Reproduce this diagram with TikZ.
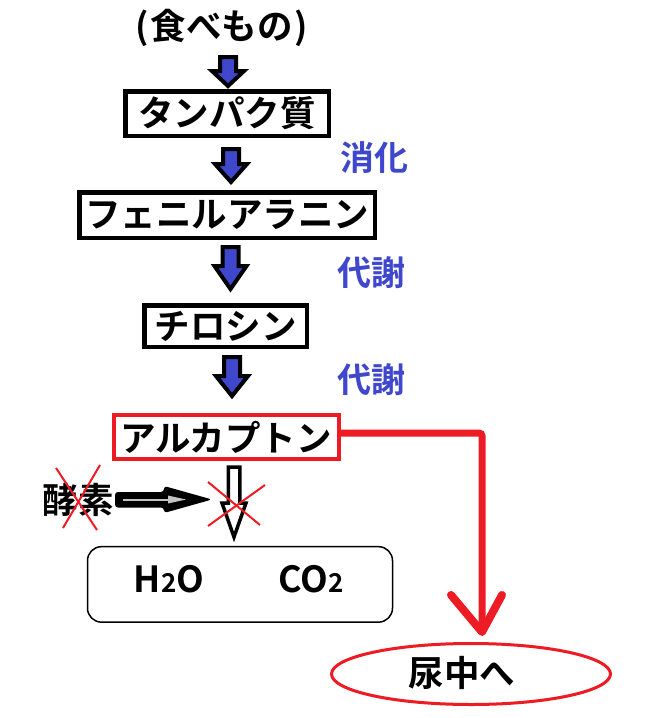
\documentclass[tikz,border=0pt]{standalone}
\usepackage{fontspec}
\setmainfont{Noto Sans CJK JP}[BoldFont={* Bold}]
\usetikzlibrary{calc,shapes.geometric}
\definecolor{pblue}{RGB}{63,72,204}
\definecolor{pred}{RGB}{237,28,36}
\definecolor{pgray}{RGB}{195,195,195}
\newcommand\blockarr[4]{%
  \draw[line width=4, line join=miter, fill=pblue]
    (#1-8,#2) -- (#1+8,#2) -- (#1+8,#3) -- (#1+16,#3) -- (#1,#4) -- (#1-16,#3) -- (#1-8,#3) -- cycle;}
\begin{document}
\begin{tikzpicture}[x=1pt,y=-1pt,
  jp/.style={font=\fontsize{35.5}{40}\selectfont\bfseries, inner sep=0pt},
  stagebox/.style={jp, draw=black, line width=4.5},
  redbox/.style={jp, draw=pred, line width=4},
  bluelabel/.style={jp, text=pblue, font=\fontsize{34}{38}\selectfont\bfseries},
  crossline/.style={pred, line width=2},
  chem/.style={font=\fontsize{36}{40}\selectfont\bfseries, inner sep=0pt, anchor=base}]
\useasboundingbox (0,0) rectangle (647,718);
\fill[white] (0,0) rectangle (647,718);

% food
\node[jp] (food) at (222,28) {(\kern2pt 食べもの\kern2pt)};

% stage boxes
\node[stagebox, minimum width=203.5, minimum height=44.5] (prot) at (227,113.5) {タンパク質};
\node[stagebox, minimum width=295.5, minimum height=45.5] (phe) at (227,215) {フェニルアラニン};
\node[stagebox, minimum width=162.5, minimum height=41.5] (tyr) at (225.5,326) {チロシン};
\node[redbox, minimum width=225, minimum height=44] (alk) at (226,437) {アルカプトン};

% blue block arrows
\blockarr{228}{57}{71}{86}
\blockarr{231}{149}{164}{182}
\blockarr{230.5}{247}{266}{289}
\blockarr{232}{357}{376}{396}

% blue labels
\node[bluelabel] (l1) at (374,158) {消化};
\node[bluelabel] (l2) at (371,273) {代謝};
\node[bluelabel] (l3) at (371,380) {代謝};

% products box
\node[draw=black, line width=1.5, rounded corners=14, minimum width=305, minimum height=75.5] (prod) at (240,584.4) {};
\node[chem] (h2o) at (169,592.7) {H{\fontsize{26}{28}\selectfont 2}O};
\node[chem] (co2) at (311,592.7) {CO{\fontsize{26}{28}\selectfont 2}};

% hollow arrow
\draw[line width=3.5, line join=miter, fill=white]
  (228.25,467) -- (239.75,467) -- (239.75,503) -- (246,503) -- (234,537) -- (222,503) -- (228.25,503) -- cycle;
\draw[crossline] (208,482) -- (260,525);
\draw[crossline] (265,485) -- (208,526);

% enzyme
\node[jp] (enz) at (78,500) {酵素};
\draw[crossline] (56,468) -- (97,530);
\draw[crossline] (100,465) -- (63,528);
\fill[black, rounded corners=3] (115,492) -- (164,492) -- (164,486) -- (212,499.5) -- (164,513) -- (164,507.5) -- (115,507.5) -- cycle;
\draw[pgray, line width=2] (123,499.5) -- (172,499.5);
\fill[pgray] (168,495.5) -- (186,499.5) -- (168,503.5) -- cycle;

% urine
\node[ellipse, draw=pred, line width=3, minimum width=279, minimum height=61] (urine) at (471,674) {};
\node[jp] (urt) at (462,673) {尿中へ};
\coordinate (tipc) at ($(urine.north)+(11,-10)$);
\draw[pred, line width=7, rounded corners=3] ([yshift=4pt]alk.east) -| (tipc);
\draw[pred, line width=8, line cap=round, line join=round]
  ($(tipc)+(-31,-37)$) -- (tipc) -- ($(tipc)+(20,-37)$);
\end{tikzpicture}
\end{document}
